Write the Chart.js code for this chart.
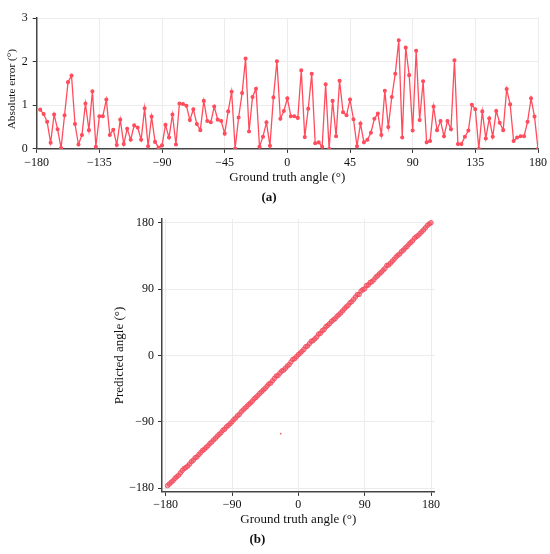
<!DOCTYPE html>
<html>
<head>
<meta charset="utf-8">
<script src="https://cdn.jsdelivr.net/npm/chart.js@4.4.1/dist/chart.umd.min.js"></script>
<style>
  body { margin: 0; background: #fff; }
  #errorChart { position: absolute; left: 0; top: 0; }
  #predChart { position: absolute; left: 80px; top: 200px; }
</style>
</head>
<body>
<canvas id="errorChart" width="550" height="205"></canvas>
<canvas id="predChart" width="400" height="354"></canvas>
<script>
// ground truth angles (deg)
const truthAngles = [
  -177.5,-175,-172.5,-170,-167.5,-165,-162.5,-160,-157.5,-155,
  -152.5,-150,-147.5,-145,-142.5,-140,-137.5,-135,-132.5,-130,
  -127.5,-125,-122.5,-120,-117.5,-115,-112.5,-110,-107.5,-105,
  -102.5,-100,-97.5,-95,-92.5,-90,-87.5,-85,-82.5,-80,
  -77.5,-75,-72.5,-70,-67.5,-65,-62.5,-60,-57.5,-55,
  -52.5,-50,-47.5,-45,-42.5,-40,-37.5,-35,-32.5,-30,
  -27.5,-25,-22.5,-20,-17.5,-15,-12.5,-10,-7.5,-5,
  -2.5,0,2.5,5,7.5,10,12.5,15,17.5,20,
  22.5,25,27.5,30,32.5,35,37.5,40,42.5,45,
  47.5,50,52.5,55,57.5,60,62.5,65,67.5,70,
  72.5,75,77.5,80,82.5,85,87.5,90,92.5,95,
  97.5,100,102.5,105,107.5,110,112.5,115,117.5,120,
  122.5,125,127.5,130,132.5,135,137.5,140,142.5,145,
  147.5,150,152.5,155,157.5,160,162.5,165,167.5,170,
  172.5,175,177.5,180
];

// absolute error (deg)
const absErrors = [
  0.90,0.80,0.62,0.14,0.79,0.45,0.02,0.77,1.53,1.68,
  0.57,0.10,0.32,1.04,0.43,1.32,0.05,0.75,0.75,1.13,
  0.32,0.44,0.09,0.67,0.11,0.46,0.21,0.54,0.49,0.21,
  0.93,0.06,0.74,0.16,0.03,0.08,0.55,0.26,0.79,0.10,
  1.04,1.03,0.99,0.66,0.91,0.57,0.43,1.10,0.64,0.61,
  0.97,0.67,0.64,0.35,0.86,1.31,0.01,0.72,1.28,2.07,
  0.40,1.19,1.38,0.05,0.28,0.61,0.07,1.18,2.01,0.69,
  0.87,1.16,0.75,0.75,0.71,1.80,0.27,0.92,1.72,0.13,
  0.15,0.05,1.48,0.00,1.10,0.29,1.56,0.84,0.77,1.13,
  0.68,0.06,0.58,0.15,0.21,0.37,0.69,0.81,0.32,1.33,
  0.50,1.19,1.72,2.49,0.26,2.32,1.69,0.42,2.25,0.66,
  1.55,0.15,0.18,0.97,0.43,0.64,0.29,0.64,0.45,2.03,
  0.11,0.11,0.28,0.42,1.01,0.91,0.00,0.86,0.24,0.70,
  0.28,0.87,0.60,0.43,1.37,1.02,0.18,0.26,0.29,0.29,
  0.62,1.16,0.74,0.00
];

// stray point in panel (b)
const strayTruth = [-24];
const strayPred = [-106];

const errorTicks = [-180, -135, -90, -45, 0, 45, 90, 135, 180];
const angleTicks = [-180, -90, 0, 90, 180];

const serif = "'Liberation Serif', 'DejaVu Serif', serif";
const red = '#ff4d5e';

const fmt = v => v < 0 ? '\u2212' + Math.abs(v) : String(v);

const axisStyle = (fitFn, titleText, titlePad, titleSize) => ({
  ticks: { color: '#111', font: { family: serif, size: 12 }, padding: 3, callback: fmt },
  grid: { color: '#ececec', lineWidth: 1, tickColor: '#333', tickLength: 4 },
  border: { color: '#444', width: 1.5 },
  title: { display: true, text: titleText, color: '#111',
           font: { family: serif, size: titleSize || 13 }, padding: titlePad },
  afterFit: fitFn
});

// (a) absolute error line
const errX = axisStyle(s => { s.height = 36.8; }, 'Ground truth angle (\u00b0)', { top: 0, bottom: 0 });
errX.type = 'linear';
errX.min = -180; errX.max = 180;
errX.ticks.stepSize = 45;
errX.afterBuildTicks = s => { s.ticks = errorTicks.map(v => ({ value: v })); };

// trailing spaces nudge the rotated title a little lower, as in the reference
const errY = axisStyle(s => { s.width = 36.7; }, 'Absolute error (\u00b0)    ', { top: 5.5, bottom: 0 }, 11.3);
errY.min = 0; errY.max = 3;
errY.ticks.stepSize = 1;
errY.ticks.padding = 5;

new Chart(document.getElementById('errorChart'), {
  type: 'line',
  data: {
    datasets: [{
      data: truthAngles.map((a, i) => ({ x: a, y: absErrors[i] })),
      borderColor: red,
      backgroundColor: red,
      borderWidth: 1.3,
      pointRadius: 1.4,
      pointHoverRadius: 1.4,
      tension: 0
    }]
  },
  options: {
    responsive: false,
    animation: false,
    layout: { padding: { left: 0, right: 12, top: 18, bottom: 0 } },
    plugins: {
      legend: { display: false },
      tooltip: { enabled: false },
      title: { display: true, position: 'bottom', text: '(a)', color: '#111',
               font: { family: serif, size: 13, weight: 'bold' }, padding: { top: 3.7, bottom: 0 } }
    },
    scales: { x: errX, y: errY }
  }
});

// (b) predicted vs ground truth
const predX = axisStyle(s => { s.height = 35.9; }, 'Ground truth angle (\u00b0)', { top: 0, bottom: 0 });
predX.min = -185; predX.max = 185;
predX.ticks.stepSize = 90;
predX.ticks.includeBounds = false;
predX.ticks.padding = 2;
predX.afterBuildTicks = s => { s.ticks = angleTicks.map(v => ({ value: v })); };

const predY = axisStyle(s => { s.width = 82; }, 'Predicted angle (\u00b0)', { top: 32.2, bottom: 0 });
predY.min = -185; predY.max = 185;
predY.ticks.stepSize = 90;
predY.ticks.includeBounds = false;
predY.ticks.padding = 4;
predY.afterBuildTicks = s => { s.ticks = angleTicks.map(v => ({ value: v })); };

new Chart(document.getElementById('predChart'), {
  type: 'scatter',
  data: {
    datasets: [{
      data: truthAngles.map((a, i) => ({ x: a, y: a + absErrors[i] })),
      backgroundColor: 'rgba(245, 80, 95, 0.55)',
      borderColor: 'rgba(235, 60, 80, 0.85)',
      borderWidth: 0.8,
      pointRadius: 2.3
    }, {
      data: strayTruth.map((a, i) => ({ x: a, y: strayPred[i] })),
      backgroundColor: 'rgba(240, 60, 80, 0.8)',
      borderWidth: 0,
      pointRadius: 0.9
    }]
  },
  options: {
    responsive: false,
    animation: false,
    layout: { padding: { left: 0, right: 45.3, top: 19, bottom: 6.2 } },
    plugins: {
      legend: { display: false },
      tooltip: { enabled: false },
      title: { display: true, position: 'bottom', text: '(b)', color: '#111',
               font: { family: serif, size: 13, weight: 'bold' }, padding: { top: 4.4, bottom: 0 } }
    },
    scales: { x: predX, y: predY }
  }
});
</script>
</body>
</html>
